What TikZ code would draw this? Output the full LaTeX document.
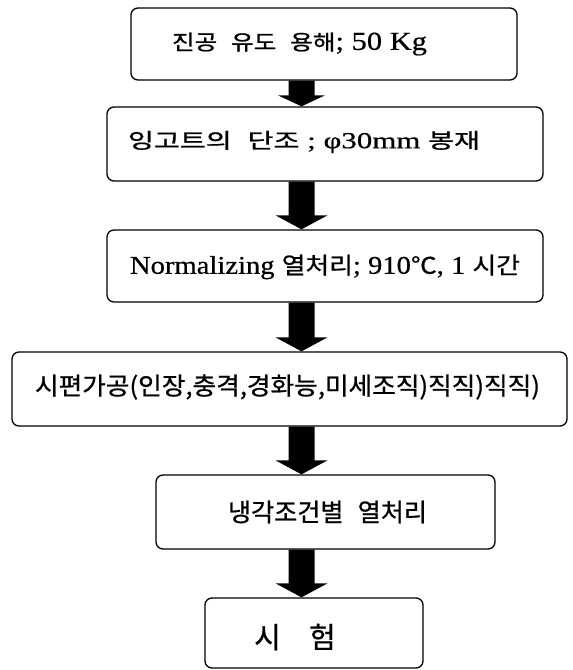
\documentclass[tikz,border=0pt]{standalone}
\usepackage{fontspec}
\usepackage{graphicx}
\setmainfont[FakeBold=0.5]{Liberation Serif}
\newfontfamily\krfont[FakeBold=0.8,WordSpace=2.5]{Noto Sans CJK KR}
\newcommand\K[1]{{\krfont\fontsize{\kz}{\kz}\selectfont #1}}
\newcommand\fitw[2]{\resizebox{#1}{\height}{#2}}
\usetikzlibrary{calc}
\tikzset{
  box/.style={draw=black, line width=1.3pt, rounded corners=7pt, inner sep=0pt, fill=white},
  txt/.style={inner sep=0pt, anchor=center},
  flowarrow/.style={fill=black},
}
% #1 from node, #2 to node, #3 head half-width, #4 head length
\newcommand\flowarr[4]{%
  \fill[flowarrow] ($(ax |- #1.south)+(-13,0)$) -- ($(ax |- #1.south)+(13,0)$)
    -- ($(ax |- #2.north)+(13,-#4)$) -- ($(ax |- #2.north)+(#3,-#4)$)
    -- (ax |- #2.north) -- ($(ax |- #2.north)+(-#3,-#4)$)
    -- ($(ax |- #2.north)+(-13,-#4)$) -- cycle;}
\begin{document}
\begin{tikzpicture}[x=1pt,y=-1pt]
\useasboundingbox (0,0) rectangle (573,670);
\coordinate (ax) at (301.5,0);
% boxes
\node[box, minimum width=386pt, minimum height=72pt] (b1) at (324,44) {};
\node[box, minimum width=436pt, minimum height=74pt] (b2) at (325,144) {};
\node[box, minimum width=436pt, minimum height=72pt] (b3) at (325,266) {};
\node[box, minimum width=555pt, minimum height=74pt] (b4) at (289.5,389) {};
\node[box, minimum width=339pt, minimum height=74pt] (b5) at (325.5,512) {};
\node[box, minimum width=218pt, minimum height=70pt] (b6) at (314,633) {};
% texts
\node[txt, font={\def\kz{21pt}\fontsize{26}{28}\selectfont}] (t1) at (299.5,44)
  {\fitw{255pt}{\K{진공 유도 용해}; 50 Kg}};
\node[txt, font={\def\kz{21pt}\fontsize{23}{25}\selectfont}] (t2) at (304,142)
  {\fitw{352pt}{\K{잉고트의 단조} ; φ30mm \K{봉재}}};
\node[txt, font={\def\kz{23pt}\fontsize{25.5}{27}\selectfont}] (t3) at (325,267)
  {\fitw{390pt}{Normalizing \K{열처리}; 910\K{℃}, 1 \K{시간}}};
\node[txt, font={\def\kz{24.5pt}\fontsize{24}{26}\selectfont}] (t4) at (287.5,387)
  {\fitw{505pt}{\K{시편가공(인장,충격,경화능,미세조직)직직)직직)}}};
\node[txt, font={\def\kz{25pt}\fontsize{25}{27}\selectfont}] (t5) at (327.5,512)
  {\fitw{199pt}{\K{냉각조건별 열처리}}};
\node[txt, font={\def\kz{29pt}\fontsize{29}{31}\selectfont}] (t6) at (295,637)
  {\K{시 \hspace{12pt}험}};
% arrows
\flowarr{b1}{b2}{23.5}{11}
\flowarr{b2}{b3}{26}{14}
\flowarr{b3}{b4}{26}{14}
\flowarr{b4}{b5}{26}{14}
\flowarr{b5}{b6}{26}{14}
\end{tikzpicture}
\end{document}
